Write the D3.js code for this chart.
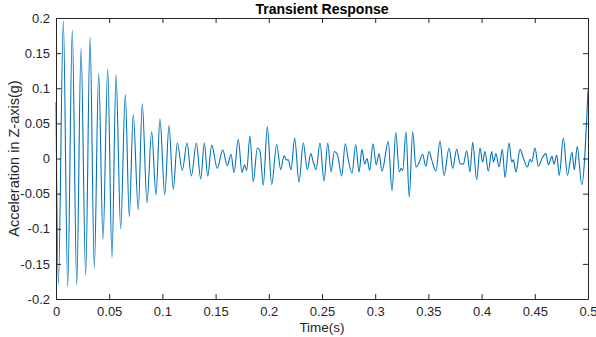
<!DOCTYPE html>
<html>
<head>
<meta charset="utf-8">
<script src="https://cdn.jsdelivr.net/npm/d3@7"></script>
<style>
    body { margin: 0; background: #fff; }
    svg { display: block; font-family: "Liberation Sans", Arial, Helvetica, sans-serif; }
</style>
</head>
<body>
<svg id="chart" width="596" height="337"></svg>
<script>
// sample times (s), rows of 10 to keep them aligned with accelG
var timeS = [
    0, 0.0022, 0.0069, 0.0110, 0.0153, 0.0195, 0.0235, 0.0279, 0.0320, 0.0360,
    0.0401, 0.0442, 0.0486, 0.0526, 0.0564, 0.0608, 0.0651, 0.0689, 0.0726, 0.0773,
    0.0811, 0.0855, 0.0899, 0.0940, 0.0977, 0.1022, 0.1062, 0.1102, 0.1140, 0.1187,
    0.1231, 0.1272, 0.1319, 0.1360, 0.1394, 0.1426, 0.1463, 0.1516, 0.1567, 0.1610,
    0.1645, 0.1673, 0.1713, 0.1748, 0.1773, 0.1792, 0.1823, 0.1854, 0.1892, 0.1917,
    0.1948, 0.1986, 0.2027, 0.2074, 0.2112, 0.2143, 0.2165, 0.2183, 0.2209, 0.2243,
    0.2284, 0.2324, 0.2362, 0.2394, 0.2418, 0.2444, 0.2481, 0.2519, 0.2554, 0.2585,
    0.2616, 0.2644, 0.2685, 0.2719, 0.2747, 0.2782, 0.2817, 0.2848, 0.2876, 0.2901,
    0.2923, 0.2948, 0.2979, 0.3010, 0.3036, 0.3064, 0.3123, 0.3158, 0.3193, 0.3227,
    0.3245, 0.3259, 0.3289, 0.3320, 0.3352, 0.3383, 0.3412, 0.3446, 0.3475, 0.3506,
    0.3531, 0.3571, 0.3609, 0.3647, 0.3694, 0.3728, 0.3766, 0.3797, 0.3828, 0.3860,
    0.3891, 0.3916, 0.3954, 0.3985, 0.4010, 0.4032, 0.4063, 0.4095, 0.4111, 0.4135,
    0.4164, 0.4195, 0.4220, 0.4258, 0.4283, 0.4298, 0.4323, 0.4361, 0.4392, 0.4430,
    0.4455, 0.4471, 0.4502, 0.4533, 0.4571, 0.4605, 0.4627, 0.4662, 0.4680, 0.4706,
    0.4730, 0.4768, 0.4807, 0.4850, 0.4871, 0.4899, 0.4941, 0.5000
];
// acceleration (g) at those times
var accelG = [
    0.080, -0.180, 0.196, -0.182, 0.183, -0.180, 0.157, -0.166, 0.173, -0.156,
    0.121, -0.115, 0.127, -0.141, 0.119, -0.100, 0.091, -0.083, 0.063, -0.073,
    0.078, -0.063, 0.038, -0.052, 0.056, -0.052, 0.047, -0.044, 0.022, -0.017,
    0.022, -0.025, 0.022, -0.029, 0.022, -0.025, 0.019, -0.014, 0.012, -0.010,
    0.006, -0.020, 0.027, -0.020, -0.009, -0.017, 0.032, -0.033, 0.015, 0.011,
    -0.038, 0.045, -0.037, 0.020, -0.016, 0.004, -0.002, -0.002, -0.016, 0.029,
    -0.034, 0.022, -0.016, 0.007, -0.005, -0.016, 0.022, -0.032, 0.022, -0.019,
    0.010, 0.006, -0.025, 0.021, -0.002, -0.021, 0.020, -0.019, 0.013, -0.008,
    0.000, -0.017, 0.021, -0.009, 0.007, -0.018, 0.024, -0.046, 0.037, -0.019,
    -0.014, -0.017, 0.038, -0.055, 0.038, -0.012, -0.006, 0.006, -0.011, 0.010,
    -0.002, -0.018, 0.025, -0.024, 0.015, -0.014, 0.013, -0.007, -0.008, 0.011,
    -0.019, 0.023, -0.030, 0.015, -0.005, 0.010, -0.018, 0.010, -0.005, 0.007,
    -0.012, 0.013, -0.027, 0.022, -0.005, -0.002, -0.019, 0.013, 0.001, -0.012,
    -0.001, -0.005, 0.015, -0.011, 0.001, 0.007, -0.009, 0.003, -0.008, 0.005,
    -0.024, 0.029, -0.024, 0.009, -0.016, 0.017, -0.037, 0.097
];
var xTicks = [0, 0.05, 0.1, 0.15, 0.2, 0.25, 0.3, 0.35, 0.4, 0.45, 0.5];
var yTicks = [-0.2, -0.15, -0.1, -0.05, 0, 0.05, 0.1, 0.15, 0.2];

var titleText = 'Transient Response';
var xLabel = 'Time(s)';
var yLabel = 'Acceleration in Z-axis(g)';

var W = 596, H = 337;
var padding = [18, 8, 38, 56]; // top right bottom left
var w = W - padding[1] - padding[3];
var h = H - padding[0] - padding[2];
var axisColor = '#262626';

var svg = d3.select('#chart');
var g = svg.append('g').attr('transform', 'translate(' + padding[3] + ',' + padding[0] + ')');

var xScale = d3.scaleLinear().domain([0, 0.5]).range([0, w]);
var yScale = d3.scaleLinear().domain([-0.2, 0.2]).range([h, 0]);

var fmt = function (d) { return String(+d.toFixed(2)); };

// trace first, box and ticks on top
var line = d3.line()
    .x(function (d) { return xScale(d[0]); })
    .y(function (d) { return yScale(d[1]); })
    .curve(d3.curveMonotoneX);

g.append('path')
    .datum(d3.zip(timeS, accelG))
    .attr('d', line)
    .attr('fill', 'none')
    .attr('stroke', '#0072BD')
    .attr('stroke-width', 1.1)
    .attr('stroke-linejoin', 'round');

// axes, ticks pointing inward like matlab
var xAxisB = d3.axisBottom(xScale).tickValues(xTicks).tickFormat(fmt).tickSizeInner(-5).tickSizeOuter(0).tickPadding(8);
var xAxisT = d3.axisTop(xScale).tickValues(xTicks).tickFormat('').tickSizeInner(-5).tickSizeOuter(0);
var yAxisL = d3.axisLeft(yScale).tickValues(yTicks).tickFormat(fmt).tickSizeInner(-5).tickSizeOuter(0).tickPadding(6);
var yAxisR = d3.axisRight(yScale).tickValues(yTicks).tickFormat('').tickSizeInner(-5).tickSizeOuter(0);

var xAxisG = g.append('g').attr('class', 'axis').attr('transform', 'translate(0,' + h + ')').call(xAxisB);
g.append('g').attr('class', 'axis').call(xAxisT);
g.append('g').attr('class', 'axis').call(yAxisL);
g.append('g').attr('class', 'axis').attr('transform', 'translate(' + w + ',0)').call(yAxisR);

g.selectAll('.axis path, .axis line').attr('stroke', axisColor);
g.selectAll('.axis text')
    .attr('fill', axisColor)
    .style('font-size', '13px');

// last x label sits on the window edge, pull it in a touch
xAxisG.selectAll('.tick text')
    .filter(function (d) { return d === 0.5; })
    .attr('text-anchor', 'end')
    .attr('dx', '9px');

// labels
g.append('text')
    .attr('x', w / 2)
    .attr('y', -4)
    .attr('text-anchor', 'middle')
    .style('font-size', '14px')
    .style('font-weight', 'bold')
    .attr('fill', '#000')
    .text(titleText);

g.append('text')
    .attr('x', w / 2)
    .attr('y', h + 33)
    .attr('text-anchor', 'middle')
    .style('font-size', '13.5px')
    .attr('fill', axisColor)
    .text(xLabel);

g.append('text')
    .attr('transform', 'translate(' + (-37) + ',' + (h / 2) + ') rotate(-90)')
    .attr('text-anchor', 'middle')
    .style('font-size', '14.5px')
    .attr('fill', axisColor)
    .text(yLabel);
</script>
</body>
</html>
